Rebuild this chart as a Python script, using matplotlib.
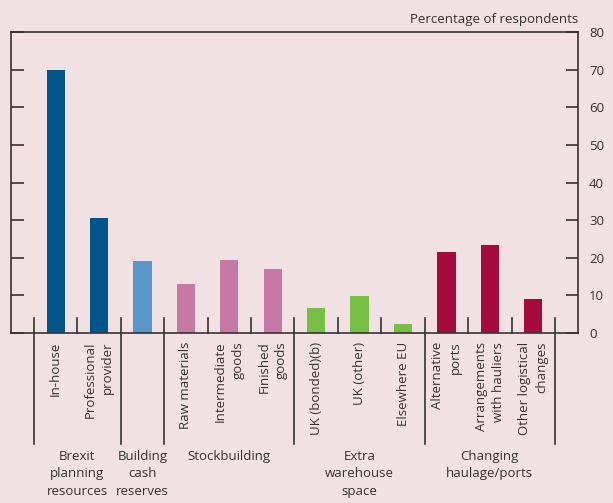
import matplotlib.pyplot as plt

# bar labels, values and colours
bar_labels = ['In-house', 'Professional\nprovider', '',
              'Raw materials', 'Intermediate\ngoods', 'Finished\ngoods',
              'UK (bonded)(b)', 'UK (other)', 'Elsewhere EU',
              'Alternative\nports', 'Arrangements\nwith hauliers', 'Other logistical\nchanges']
values = [70, 30.5, 19.2, 13.1, 19.3, 16.9, 6.6, 9.9, 2.4, 21.6, 23.3, 9.1]
colors = ['#00558b', '#00558b', '#5b97c9',
          '#c878a5', '#c878a5', '#c878a5',
          '#77bf45', '#77bf45', '#77bf45',
          '#a50a3e', '#a50a3e', '#a50a3e']

group_labels = ['Brexit\nplanning\nresources', 'Building\ncash\nreserves', 'Stockbuilding',
                'Extra\nwarehouse\nspace', 'Changing\nhaulage/ports']
group_sizes = [2, 1, 3, 3, 3]

y_ticks = [0, 10, 20, 30, 40, 50, 60, 70, 80]

bg = '#f2e1e2'
ink = '#333333'

plt.rcParams['font.family'] = ['Open Sans', 'DejaVu Sans']
plt.rcParams['font.size'] = 9

fig = plt.figure(figsize=(6.13, 5.03), dpi=100, facecolor=bg)
ax = fig.add_axes([0.0179, 0.338, 0.925, 0.598])
ax.set_facecolor(bg)

x = list(range(len(values)))
ax.bar(x, values, width=0.42, color=colors, zorder=2)

ax.set_xlim(-1.03, 12.03)
ax.set_ylim(0, 80)

for s in ax.spines.values():
    s.set_color(ink)
    s.set_linewidth(1.2)

ax.set_xticks([])
ax.set_yticks(y_ticks)
ax.tick_params(axis='y', direction='in', length=9, width=1.2, color=ink,
               left=True, right=True, labelleft=False, labelright=True,
               labelcolor=ink, labelsize=9.5, pad=8)

ax.text(1.0, 1.02, 'Percentage of respondents', transform=ax.transAxes,
        ha='right', va='bottom', color=ink, fontsize=9.5)

# dividers between bars; long ones mark the group boundaries
bounds = [-0.5]
for n in group_sizes:
    bounds.append(bounds[-1] + n)
for i in range(len(values) + 1):
    xd = i - 0.5
    if xd in bounds:
        ax.plot([xd, xd], [4, -29.5], color=ink, lw=1.2, clip_on=False, zorder=3)
    else:
        ax.plot([xd, xd], [4, 0], color=ink, lw=1.2, clip_on=False, zorder=3)

for xi, lab in zip(x, bar_labels):
    if lab:
        ax.text(xi, -2.3, lab, rotation=90, ha='center', va='top',
                multialignment='right', linespacing=1.45, color=ink, fontsize=9.5)

for k, lab in enumerate(group_labels):
    xc = (bounds[k] + bounds[k + 1]) / 2
    ax.text(xc, -31.0, lab, ha='center', va='top', linespacing=1.45,
            color=ink, fontsize=9.5)

fig.savefig('out.png', dpi=100, facecolor=bg)
